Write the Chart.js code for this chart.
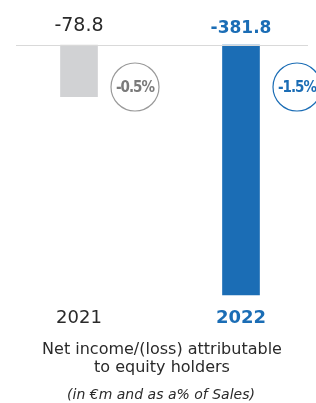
<!DOCTYPE html>
<html><head><meta charset="utf-8">
<script src="https://cdn.jsdelivr.net/npm/chart.js@4"></script>
<style>html,body{margin:0;padding:0;background:#fff}#wrap{width:316px;height:403px;position:relative}</style>
</head><body><div id="wrap"><canvas id="c"></canvas></div>
<script>
const categories = ['2021', '2022'];
const values = [-78.8, -381.8];
const valueLabels = ['-78.8', '-381.8'];
const pctLabels = ['-0.5%', '-1.5%'];
const titleLines = ['Net income/(loss) attributable', 'to equity holders'];
const subtitle = '(in €m and as a% of Sales)';

const GRAY = '#d1d2d4', BLUE = '#1b6db5';
const FONT = '"DejaVu Sans", sans-serif';

const deco = {
  id: 'deco',
  afterDatasetsDraw(chart) {
    const ctx = chart.ctx, xs = chart.scales.x, ys = chart.scales.y;
    const y0 = ys.getPixelForValue(0);
    ctx.save();
    // baseline
    ctx.strokeStyle = '#d9d9d9'; ctx.lineWidth = 1;
    ctx.beginPath(); ctx.moveTo(16, y0 + 0.5); ctx.lineTo(308, y0 + 0.5); ctx.stroke();
    ctx.textAlign = 'center';
    ctx.textBaseline = 'alphabetic';
    categories.forEach((c, i) => {
      const x = xs.getPixelForValue(i);
      const last = i === categories.length - 1;
      // value label
      ctx.fillStyle = last ? BLUE : '#2a2a2a';
      ctx.font = (last ? 'bold 17px ' : '19px ') + FONT;
      ctx.fillText(valueLabels[i], x, last ? 33 : 31);
      // category label
      ctx.fillStyle = last ? BLUE : '#2a2a2a';
      ctx.font = (last ? 'bold 18px ' : '18px ') + FONT;
      ctx.fillText(c, x, 323);
      // pct circle
      const cx = x + 56, cy = 87, r = 24;
      ctx.beginPath(); ctx.arc(cx, cy, r, 0, Math.PI * 2);
      ctx.fillStyle = '#fff'; ctx.fill();
      ctx.strokeStyle = last ? BLUE : '#9a9a9a'; ctx.lineWidth = 1.2; ctx.stroke();
      ctx.fillStyle = last ? BLUE : '#7a7a7a';
      ctx.font = 'bold 15px "DejaVu Sans Condensed", "DejaVu Sans", sans-serif';
      try { ctx.letterSpacing = '-1px'; } catch (e) {}
      ctx.textBaseline = 'middle';
      ctx.fillText(pctLabels[i], cx, cy + 1);
      try { ctx.letterSpacing = '0px'; } catch (e) {}
      ctx.textBaseline = 'alphabetic';
    });
    // title
    ctx.fillStyle = '#2a2a2a';
    ctx.font = '16px ' + FONT;
    ctx.fillText(titleLines[0], 162, 354);
    ctx.fillText(titleLines[1], 162, 372);
    ctx.font = 'italic 14px ' + FONT;
    ctx.fillText(subtitle, 161, 399);
    ctx.restore();
  }
};

new Chart(document.getElementById('c'), {
  type: 'bar',
  data: {
    labels: categories,
    datasets: [{
      data: values,
      backgroundColor: [GRAY, BLUE],
      barThickness: 37,
      clip: false,
      borderWidth: 0
    }]
  },
  options: {
    responsive: true,
    maintainAspectRatio: false,
    animation: false,
    events: [],
    layout: { padding: { left: 79, right: 75, top: 45, bottom: 108 } },
    plugins: { legend: { display: false }, tooltip: { enabled: false } },
    scales: {
      x: { display: false, offset: false },
      y: { display: false, min: -381.8, max: 0 }
    }
  },
  plugins: [deco]
});
</script>
</body></html>
